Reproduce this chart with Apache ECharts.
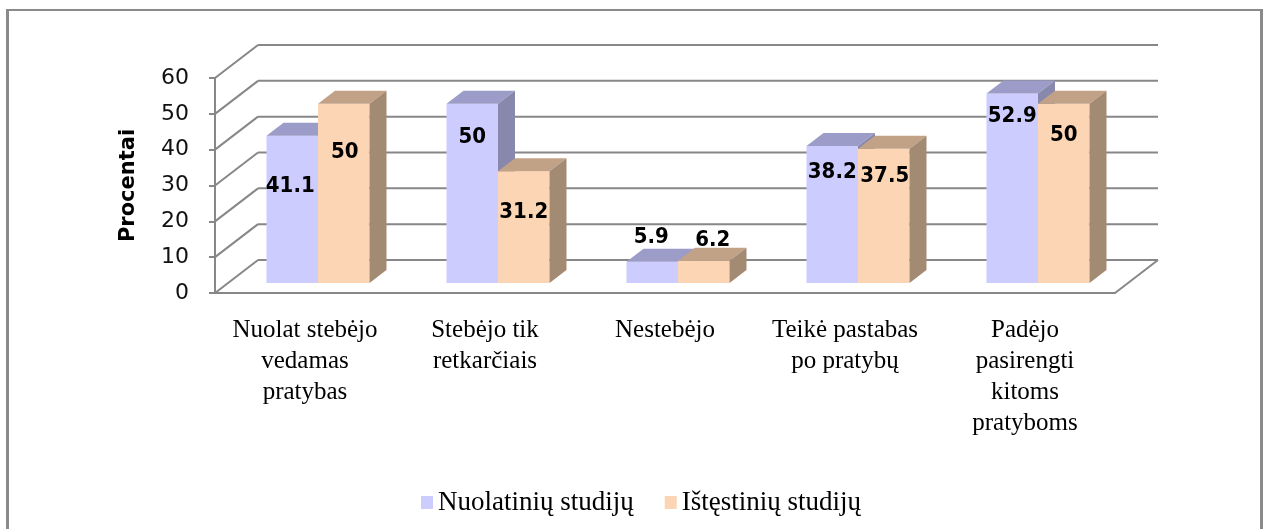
<!DOCTYPE html>
<html>
<head>
<meta charset="utf-8">
<script src="https://cdn.jsdelivr.net/npm/echarts@6/dist/echarts.min.js"></script>
<style>
    html, body { margin: 0; padding: 0; background: #fff; }
    #frame {
        position: absolute; left: 6px; top: 9px; width: 1251px; height: 540px;
        border-left: 3px solid #8a8a8a; border-top: 2px solid #8a8a8a; border-right: 3px solid #8a8a8a;
    }
    #chart { position: absolute; left: 0; top: 0; width: 1266px; height: 529px; }
</style>
</head>
<body>
<div id="frame"></div>
<div id="chart"></div>
<script>
// data
var categories = [
    'Nuolat stebėjo\nvedamas\npratybas',
    'Stebėjo tik\nretkarčiais',
    'Nestebėjo',
    'Teikė pastabas\npo pratybų',
    'Padėjo\npasirengti\nkitoms\npratyboms'
];
var seriesNames = ['Nuolatinių studijų', 'Ištęstinių studijų'];
var nuolatines = [41.1, 50, 5.9, 38.2, 52.9];
var istestines = [50, 31.2, 6.2, 37.5, 50];
var yTicks = [0, 10, 20, 30, 40, 50, 60];

// label nudges (px, relative to bar top) - styling only
var labelDyBlue = [51, 33, -25, 26, 23];
var labelDyOrange = [48, 41, -21, 28, 31];
var labelDxBlue = [-2, 0, -1, 0, 0];
var labelDxOrange = [1, 0, 9, 1, 0];

// 3d look
var wall = {dx: 43, dy: -33};     // depth of floor / back wall
var plane = {dx: 13, dy: -10};    // where bars stand
var depth = {dx: 17, dy: -13};    // bar depth
var barW = 51.5;
var gridColor = '#878787';

var palette = [
    {front: '#ccccff', top: '#9c9cc9', side: '#8888ac'},
    {front: '#fcd5b5', top: '#c2a287', side: '#a38a72'}
];

function wallItem(params, api) {
    var cs = params.coordSys;
    var v = api.value(0);
    var y = api.coord([0, v])[1];
    var x0 = cs.x, x1 = cs.x + cs.width;
    var kids = [
        {type: 'line', shape: {x1: x0, y1: y, x2: x0 + wall.dx, y2: y + wall.dy},
            style: {stroke: gridColor, lineWidth: 2}},
        {type: 'line', shape: {x1: x0 + wall.dx, y1: y + wall.dy, x2: x1 + wall.dx, y2: y + wall.dy},
            style: {stroke: gridColor, lineWidth: 2}}
    ];
    if (v === 0) {
        kids.push({type: 'line', shape: {x1: x1, y1: y, x2: x1 + wall.dx, y2: y + wall.dy},
            style: {stroke: gridColor, lineWidth: 2}});
    }
    return {type: 'group', children: kids};
}

function barRenderer(s, dyArr, dxArr) {
    var c = palette[s];
    return function (params, api) {
        var i = api.value(0), v = api.value(1);
        var base = api.coord([i, 0]);
        var topP = api.coord([i, v]);
        var cx = base[0] + plane.dx;
        var l = s === 0 ? cx - barW : cx;
        var r = l + barW;
        var b = base[1] + plane.dy;
        var t = topP[1] + plane.dy;
        return {
            type: 'group',
            children: [
                {type: 'polygon', shape: {points: [[l, b], [r, b], [r, t], [l, t]]},
                    style: {fill: c.front}},
                {type: 'polygon', shape: {points: [[l, t], [r, t], [r + depth.dx, t + depth.dy], [l + depth.dx, t + depth.dy]]},
                    style: {fill: c.top}},
                {type: 'polygon', shape: {points: [[r, t], [r + depth.dx, t + depth.dy], [r + depth.dx, b + depth.dy], [r, b]]},
                    style: {fill: c.side}},
                {type: 'text', x: (l + r) / 2 + dxArr[i], y: t + dyArr[i],
                    style: {text: String(v), fill: '#000', align: 'center', verticalAlign: 'middle',
                        font: 'bold 22px "DejaVu Sans Condensed", "DejaVu Sans"'}}
            ]
        };
    };
}

var chart = echarts.init(document.getElementById('chart'));
var option = {
    animation: false,
    grid: {left: 215, top: 78, width: 900, height: 215},
    legend: {
        data: [{name: seriesNames[0], icon: 'rect'}, {name: seriesNames[1], icon: 'rect'}],
        left: 416, top: 484,
        itemWidth: 12, itemHeight: 13, itemGap: 31,
        textStyle: {fontFamily: 'Liberation Serif', fontSize: 27, color: '#000'}
    },
    xAxis: {
        type: 'category',
        data: categories,
        axisLine: {lineStyle: {color: gridColor, width: 2}},
        axisTick: {length: 8, lineStyle: {color: gridColor, width: 2}},
        axisLabel: {
            interval: 0, margin: 22, color: '#000',
            fontFamily: 'Liberation Serif', fontSize: 25, lineHeight: 31
        }
    },
    yAxis: {
        type: 'value', min: 0, max: 60, interval: 10,
        name: 'Procentai', nameLocation: 'middle', nameGap: 76,
        nameTextStyle: {fontFamily: 'DejaVu Sans', fontWeight: 'bold', fontSize: 21, color: '#000'},
        axisLine: {show: true, lineStyle: {color: gridColor, width: 2}},
        axisTick: {show: true, length: 6, lineStyle: {color: gridColor, width: 2}},
        splitLine: {show: false},
        axisLabel: {margin: 26, color: '#111', fontFamily: 'DejaVu Sans', fontSize: 22, padding: [6, 0, 0, 0]}
    },
    series: [
        {
            type: 'custom', name: 'walls', clip: false, silent: true, z: 1,
            data: yTicks.map(function (v) { return [v]; }),
            encode: {y: 0},
            renderItem: wallItem
        },
        {
            type: 'custom', name: seriesNames[0], clip: false, z: 2,
            itemStyle: {color: palette[0].front},
            data: nuolatines.map(function (v, i) { return [i, v]; }),
            encode: {x: 0, y: 1},
            renderItem: barRenderer(0, labelDyBlue, labelDxBlue)
        },
        {
            type: 'custom', name: seriesNames[1], clip: false, z: 3,
            itemStyle: {color: palette[1].front},
            data: istestines.map(function (v, i) { return [i, v]; }),
            encode: {x: 0, y: 1},
            renderItem: barRenderer(1, labelDyOrange, labelDxOrange)
        }
    ]
};
chart.setOption(option);
</script>
</body>
</html>
